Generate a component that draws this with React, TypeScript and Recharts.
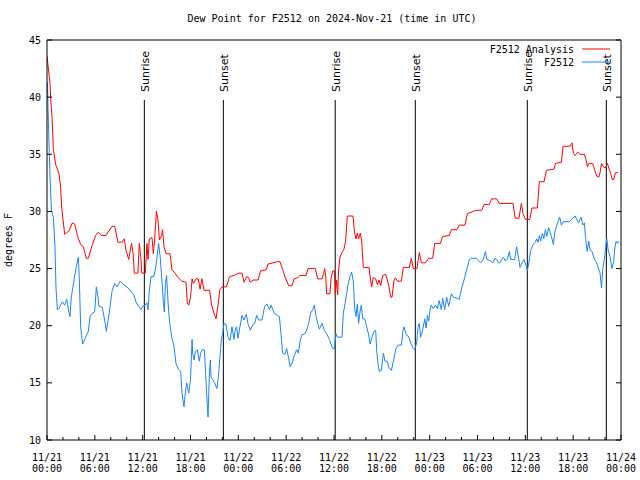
import { LineChart, Line, XAxis, YAxis, ReferenceLine } from 'recharts'

// hours after 2024-11-21 00:00 UTC, dew point in degrees F
const analysisHours = [
  0, 0.38, 0.46, 0.63, 0.8, 1.09, 1.5, 1.7, 1.84, 1.97, 2.22, 2.76, 3.18, 3.47, 3.8, 4.22, 4.56, 4.93, 5.18, 5.69,
  6.1, 6.44, 6.82, 7.4, 8.15, 8.49, 8.9, 9.4, 9.7, 9.9, 10.25, 10.6, 10.8, 10.95, 11.4, 11.58, 11.79, 11.9, 12.33, 12.54,
  12.67, 12.84, 13.17, 13.34, 13.5, 13.72, 13.9, 14.1, 14.38, 14.5, 14.68, 14.93, 15.43, 15.68, 16.05, 16.47, 16.9, 17.44, 17.6, 17.77,
  18.0, 18.2, 18.35, 18.7, 18.98, 19.2, 19.43, 19.7, 20.4, 20.65, 20.9, 21.2, 21.5, 21.66, 21.95, 22.5, 22.9, 23.46, 24.04, 24.46,
  24.71, 25.05, 25.3, 25.5, 25.84, 26.47, 26.8, 27.5, 27.72, 28.35, 28.9, 29.23, 29.56, 29.9, 30.32, 30.73, 30.98, 31.44, 31.74, 32.5,
  32.74, 33.66, 33.95, 34.5, 34.7, 34.83, 34.96, 35.08, 35.5, 35.63, 35.84, 36.05, 36.17, 36.33, 36.46, 36.58, 36.75, 37.0, 37.25, 37.46,
  37.67, 38.38, 38.59, 38.76, 38.92, 39.09, 39.3, 39.47, 39.68, 40.39, 40.6, 40.73, 40.93, 41.23, 41.44, 41.65, 41.86, 42.11, 42.48, 42.69,
  42.9, 43.11, 43.28, 43.53, 43.7, 43.95, 44.45, 44.7, 45.45, 45.7, 45.95, 46.41, 46.7, 46.96, 47.46, 47.88, 48.38, 48.63, 49.35, 49.63,
  50.47, 50.72, 51.39, 51.72, 52.43, 52.73, 53.48, 53.81, 54.53, 54.82, 55.49, 55.78, 56.41, 56.74, 57.45, 58.45, 58.74, 59.2, 59.5, 59.71,
  60.0, 60.55, 60.84, 61.51, 61.76, 62.35, 62.64, 63.6, 63.77, 64.52, 64.73, 65.6, 65.86, 66.02, 66.27, 66.57, 66.86, 67.41, 67.62, 67.79,
  67.96, 68.45, 68.71, 68.96, 69.21, 69.38, 69.55, 69.8, 70.05, 70.3, 70.47, 70.72, 70.89, 71.1, 71.31, 71.6,
]
const analysisDewPoint = [
  43.6, 41.2, 39.9, 38.3, 35.4, 34.1, 33.3, 32.2, 30.4, 29.5, 28.0, 28.3, 29.0, 28.9, 27.9, 27.1, 26.9, 25.9, 25.9, 27.1,
  27.9, 28.2, 27.9, 27.9, 28.7, 28.7, 27.3, 27.3, 27.6, 26.6, 25.8, 27.2, 26.3, 24.6, 24.6, 27.2, 25.8, 24.6, 24.6, 27.2,
  25.8, 27.6, 27.7, 26.3, 27.5, 30.0, 29.4, 27.5, 27.9, 28.4, 26.9, 26.3, 26.3, 24.9, 24.6, 24.2, 23.9, 23.8, 22.0, 21.8,
  22.5, 24.1, 23.7, 24.1, 24.1, 23.2, 24.1, 23.1, 23.1, 21.8, 21.2, 20.6, 22.0, 23.1, 23.4, 23.4, 24.3, 24.4, 24.6, 24.6,
  23.8, 24.3, 24.2, 23.8, 24.0, 24.0, 24.8, 24.9, 25.4, 25.5, 25.6, 25.6, 24.9, 24.2, 23.5, 23.5, 24.1, 24.2, 24.4, 24.4,
  25.0, 25.0, 24.1, 24.1, 24.6, 25.0, 24.3, 22.8, 22.8, 24.1, 24.8, 24.8, 22.8, 24.0, 22.7, 24.9, 26.0, 26.4, 26.7, 27.4,
  29.6, 29.6, 28.1, 27.6, 28.1, 27.6, 28.1, 27.4, 25.1, 25.1, 23.9, 23.4, 24.2, 24.1, 23.6, 24.0, 23.5, 24.4, 24.5, 24.0,
  23.4, 22.5, 22.5, 24.0, 24.2, 23.9, 23.9, 25.1, 25.1, 25.9, 25.0, 25.0, 26.4, 25.5, 25.5, 25.9, 25.9, 27.2, 27.2, 27.8,
  27.9, 28.4, 28.4, 28.8, 28.8, 29.8, 30.0, 30.1, 30.1, 30.6, 30.6, 31.1, 31.1, 30.7, 30.7, 30.7, 29.4, 29.4, 30.7, 29.8,
  29.3, 29.3, 30.3, 30.3, 32.6, 32.6, 33.6, 33.7, 34.2, 34.3, 35.7, 35.7, 36.0, 35.1, 34.9, 35.2, 35.0, 35.0, 34.5, 33.9,
  34.2, 34.2, 33.6, 33.1, 33.0, 33.4, 34.2, 33.9, 33.8, 34.2, 33.8, 33.3, 32.8, 32.8, 33.4, 33.4,
]

const stationHours = [
  0.05, 0.2, 0.38, 0.55, 0.8, 1.0, 1.13, 1.3, 1.5, 1.92, 2.22, 2.47, 2.72, 2.88, 3.05, 3.39, 3.68, 3.93, 4.06, 4.22,
  4.47, 4.85, 5.18, 5.4, 5.69, 5.98, 6.19, 6.4, 6.52, 6.94, 7.23, 7.44, 7.8, 8.15, 8.49, 8.78, 9.2, 9.6, 10.0, 10.45,
  10.87, 11.2, 11.5, 11.79, 12.0, 12.33, 12.54, 12.67, 12.84, 13.05, 13.38, 13.59, 13.8, 14.0, 14.2, 14.38, 14.6, 14.72, 14.85, 15.0,
  15.18, 15.35, 15.64, 15.93, 16.18, 16.47, 16.77, 16.93, 17.18, 17.35, 17.52, 17.77, 18.0, 18.2, 18.27, 18.44, 18.6, 18.86, 19.1, 19.27,
  19.52, 19.73, 19.9, 20.0, 20.2, 20.37, 20.5, 20.57, 20.78, 21.03, 21.3, 21.5, 21.66, 21.87, 22.03, 22.2, 22.45, 22.7, 22.95, 23.2,
  23.46, 23.6, 23.79, 23.96, 24.2, 24.46, 24.7, 25.0, 25.2, 25.5, 25.84, 26.05, 26.3, 26.55, 26.97, 27.3, 27.6, 27.9, 28.1, 28.5,
  28.9, 29.15, 29.35, 29.56, 29.86, 30.06, 30.27, 30.52, 30.82, 31.02, 31.32, 31.53, 31.74, 31.94, 32.36, 32.61, 32.82, 33.07, 33.32, 33.53,
  33.74, 33.95, 34.16, 34.5, 34.79, 35.08, 35.42, 35.63, 35.84, 36.05, 36.12, 36.25, 36.42, 37.0, 37.17, 37.38, 37.58, 37.79, 38.0, 38.21,
  38.42, 38.59, 38.76, 38.92, 39.09, 39.26, 39.43, 39.6, 39.85, 40.1, 40.35, 40.52, 40.77, 41.02, 41.23, 41.35, 41.52, 41.69, 41.94, 42.19,
  42.4, 42.69, 42.9, 43.2, 43.45, 43.78, 44.03, 44.45, 44.66, 44.78, 45.03, 45.37, 45.62, 45.87, 46.12, 46.37, 46.54, 46.7, 46.87, 47.12,
  47.38, 47.55, 47.71, 47.88, 48.05, 48.2, 48.45, 48.71, 48.96, 49.2, 49.46, 49.63, 49.88, 50.13, 50.38, 50.55, 50.72, 50.97, 51.47, 51.72,
  52.02, 52.31, 52.64, 52.98, 53.27, 53.81, 54.11, 54.4, 54.74, 54.99, 55.16, 55.57, 55.91, 56.2, 56.41, 56.62, 56.83, 57.04, 57.25, 57.45,
  57.75, 58.0, 58.16, 58.66, 58.91, 59.16, 59.33, 59.58, 59.83, 60.13, 60.25, 60.46, 60.67, 60.97, 61.26, 61.43, 61.6, 61.76, 61.93, 62.14,
  62.31, 62.52, 62.69, 62.93, 63.1, 63.35, 63.52, 63.68, 63.89, 64.1, 64.31, 64.52, 64.77, 65.52, 65.94, 66.27, 66.44, 66.69, 66.99, 67.2,
  67.41, 67.54, 67.75, 67.96, 68.12, 68.37, 68.66, 68.96, 69.21, 69.38, 69.55, 69.72, 69.93, 70.09, 70.22, 70.39, 70.64, 70.85, 71.06, 71.22,
  71.39, 71.56, 71.73,
]
const stationDewPoint = [
  41.3, 37.1, 33.0, 30.1, 29.5, 26.9, 23.3, 21.4, 21.5, 22.1, 21.8, 22.3, 21.3, 20.8, 22.5, 24.0, 25.2, 26.0, 24.0, 19.9,
  18.4, 19.0, 19.5, 20.8, 21.1, 21.2, 23.4, 22.5, 21.7, 21.6, 20.5, 19.5, 21.1, 23.0, 23.7, 23.4, 23.9, 23.6, 23.4, 23.1,
  22.7, 22.0, 21.7, 21.4, 21.7, 21.8, 22.0, 21.4, 23.1, 24.3, 24.3, 24.9, 26.0, 27.2, 26.0, 24.3, 22.0, 21.2, 23.6, 24.4,
  22.1, 20.5, 19.0, 18.2, 16.7, 16.2, 16.0, 14.1, 12.9, 14.1, 15.0, 14.1, 15.3, 18.8, 17.6, 17.0, 17.7, 17.9, 16.9, 17.6,
  17.9, 17.9, 15.8, 14.4, 12.0, 15.8, 17.0, 15.5, 15.3, 15.0, 14.5, 15.5, 17.0, 18.8, 19.3, 20.2, 20.1, 19.0, 18.7, 19.9,
  18.8, 19.6, 19.9, 18.9, 19.9, 20.9, 20.5, 21.0, 20.2, 19.6, 20.1, 20.2, 20.9, 20.5, 20.5, 21.7, 21.9, 21.4, 21.8, 21.1,
  20.9, 20.8, 19.3, 17.6, 17.5, 18.0, 17.3, 16.4, 16.9, 17.4, 17.9, 17.6, 18.6, 19.2, 19.3, 19.7, 20.2, 21.1, 21.4, 21.8,
  20.9, 20.2, 19.7, 20.2, 19.6, 19.3, 18.8, 18.4, 18.0, 18.0, 18.6, 19.3, 19.0, 19.0, 21.1, 21.9, 22.8, 23.7, 24.3, 24.7,
  23.9, 21.5, 20.8, 21.9, 20.2, 21.2, 21.8, 20.6, 20.6, 19.9, 19.2, 18.4, 19.0, 19.5, 19.6, 17.9, 16.6, 16.0, 16.1, 17.6,
  16.9, 16.9, 16.3, 16.1, 16.9, 18.0, 18.3, 18.3, 19.6, 19.9, 19.3, 19.0, 18.5, 18.1, 17.9, 18.5, 19.9, 20.2, 19.0, 19.6,
  20.6, 19.8, 20.9, 20.4, 21.4, 21.8, 21.5, 21.8, 21.5, 22.2, 21.4, 22.4, 21.4, 22.5, 21.7, 22.2, 22.8, 22.5, 22.4, 22.3,
  23.3, 24.0, 24.9, 25.8, 25.9, 25.9, 25.7, 25.5, 25.8, 26.5, 25.8, 25.7, 25.5, 25.9, 25.8, 25.5, 25.5, 25.8, 26.0, 25.7,
  25.8, 26.5, 25.8, 25.8, 26.9, 25.9, 25.1, 25.5, 25.8, 25.2, 24.8, 25.6, 26.6, 27.1, 27.3, 27.6, 27.3, 27.9, 27.4, 28.1,
  27.6, 28.4, 27.8, 28.6, 28.2, 27.6, 27.1, 28.1, 28.7, 29.1, 29.5, 28.8, 29.1, 29.1, 29.4, 29.6, 29.3, 29.0, 29.5, 28.8,
  29.0, 27.8, 26.5, 27.4, 26.6, 26.5, 25.8, 25.5, 24.9, 24.6, 23.3, 25.0, 25.9, 26.9, 27.6, 26.6, 26.0, 25.0, 25.5, 26.8,
  27.4, 27.2, 27.4,
]

const sunEventHours = [12.21, 22.12, 36.15, 46.2, 60.25, 70.16]
const sunEventLabels = ['Sunrise', 'Sunset', 'Sunrise', 'Sunset', 'Sunrise', 'Sunset']

const xTickHours = [
  0, 2, 4, 6, 8, 10, 12, 14, 16, 18, 20, 22, 24, 26, 28, 30, 32, 34, 36,
  38, 40, 42, 44, 46, 48, 50, 52, 54, 56, 58, 60, 62, 64, 66, 68, 70, 72,
]
const yTicks = [10, 15, 20, 25, 30, 35, 40, 45]
const dayLabels = ['11/21', '11/22', '11/23', '11/24']

const mono = '"DejaVu Sans Mono", monospace'

const analysisData = analysisHours.map((h, i) => ({ h, v: analysisDewPoint[i] }))
const stationData = stationHours.map((h, i) => ({ h, v: stationDewPoint[i] }))

function BottomTick({ x, y, payload }: any) {
  const h = payload.value
  const major = h % 6 === 0
  const time = String(h % 24).padStart(2, '0') + ':00'
  return (
    <g>
      <line x1={x} y1={y} x2={x} y2={y - (major ? 5 : 3)} stroke="#000" />
      {major && (
        <text fontFamily={mono} fontSize={10} fill="#000" textAnchor="middle">
          <tspan x={x} y={y + 21}>{dayLabels[Math.floor(h / 24)]}</tspan>
          <tspan x={x} y={y + 32}>{time}</tspan>
        </text>
      )}
    </g>
  )
}

function TopTick({ x, y, payload }: any) {
  const major = payload.value % 6 === 0
  return <line x1={x} y1={y} x2={x} y2={y + (major ? 5 : 3)} stroke="#000" />
}

function LeftTick({ x, y, payload }: any) {
  return (
    <g>
      <line x1={x} y1={y} x2={x + 5} y2={y} stroke="#000" />
      <text x={x - 6} y={y + 3.5} fontFamily={mono} fontSize={10} fill="#000" textAnchor="end">
        {payload.value}
      </text>
    </g>
  )
}

function RightTick({ x, y }: any) {
  return <line x1={x} y1={y} x2={x - 5} y2={y} stroke="#000" />
}

function SunLabel({ viewBox, text }: any) {
  const x = viewBox.x + 4.5
  const y = viewBox.y - 8
  return (
    <text
      x={x}
      y={y}
      transform={`rotate(-90 ${x} ${y})`}
      fontFamily='"DejaVu Sans", sans-serif'
      fontSize={11}
      fill="#000"
    >
      {text}
    </text>
  )
}

function AxisTitle({ viewBox }: any) {
  const x = viewBox.x + 12
  const y = viewBox.y + viewBox.height / 2
  return (
    <text x={x} y={y} transform={`rotate(-90 ${x} ${y})`} fontFamily={mono} fontSize={10} textAnchor="middle" fill="#000">
      degrees F
    </text>
  )
}

export default function App() {
  return (
    <div style={{ position: 'absolute', left: 0, top: 0, width: 640, height: 480, background: '#fff' }}>
      <LineChart width={640} height={480} margin={{ top: 0, right: 0, bottom: 0, left: 0 }}>
        <XAxis
          xAxisId={0}
          type="number"
          dataKey="h"
          domain={[0, 72]}
          ticks={xTickHours}
          interval={0}
          allowDataOverflow
          height={40}
          tickSize={0}
          tickMargin={0}
          tick={<BottomTick />}
          axisLine={{ stroke: '#000' }}
        />
        <XAxis
          xAxisId="top"
          orientation="top"
          type="number"
          domain={[0, 72]}
          ticks={xTickHours}
          interval={0}
          allowDataOverflow
          height={40}
          tickSize={0}
          tickMargin={0}
          tick={<TopTick />}
          axisLine={{ stroke: '#000' }}
        />
        <YAxis
          yAxisId="left"
          type="number"
          domain={[10, 45]}
          ticks={yTicks}
          interval={0}
          allowDataOverflow
          width={47}
          tickSize={0}
          tickMargin={0}
          tick={<LeftTick />}
          axisLine={{ stroke: '#000' }}
          label={{ content: <AxisTitle /> }}
        />
        <YAxis
          yAxisId="right"
          orientation="right"
          type="number"
          domain={[10, 45]}
          ticks={yTicks}
          interval={0}
          allowDataOverflow
          width={19}
          tickSize={0}
          tickMargin={0}
          tick={<RightTick />}
          axisLine={{ stroke: '#000' }}
        />
        {sunEventHours.map((h, i) => (
          <ReferenceLine
            key={i}
            xAxisId={0}
            yAxisId="left"
            segment={[{ x: h, y: 10 }, { x: h, y: 39.75 }]}
            stroke="#000"
            strokeWidth={1}
            label={<SunLabel text={sunEventLabels[i]} />}
          />
        ))}
        <Line
          xAxisId={0}
          yAxisId="left"
          data={analysisData}
          dataKey="v"
          type="linear"
          stroke="#ff0000"
          strokeWidth={1}
          dot={false}
          activeDot={false}
          isAnimationActive={false}
        />
        <Line
          xAxisId={0}
          yAxisId="left"
          data={stationData}
          dataKey="v"
          type="linear"
          stroke="#1a86f0"
          strokeWidth={1}
          dot={false}
          activeDot={false}
          isAnimationActive={false}
        />
      </LineChart>
      <svg width={640} height={480} style={{ position: 'absolute', left: 0, top: 0, pointerEvents: 'none' }}>
        <text x={332} y={22} fontFamily={mono} fontSize={10} textAnchor="middle" fill="#000">
          Dew Point for F2512 on 2024-Nov-21 (time in UTC)
        </text>
        <text x={574} y={53} fontFamily={mono} fontSize={10} textAnchor="end" fill="#000">
          F2512 Analysis
        </text>
        <line x1={582} y1={49} x2={610} y2={49} stroke="#ff0000" />
        <text x={574} y={66} fontFamily={mono} fontSize={10} textAnchor="end" fill="#000">
          F2512
        </text>
        <line x1={582} y1={62} x2={610} y2={62} stroke="#1a86f0" />
      </svg>
    </div>
  )
}
